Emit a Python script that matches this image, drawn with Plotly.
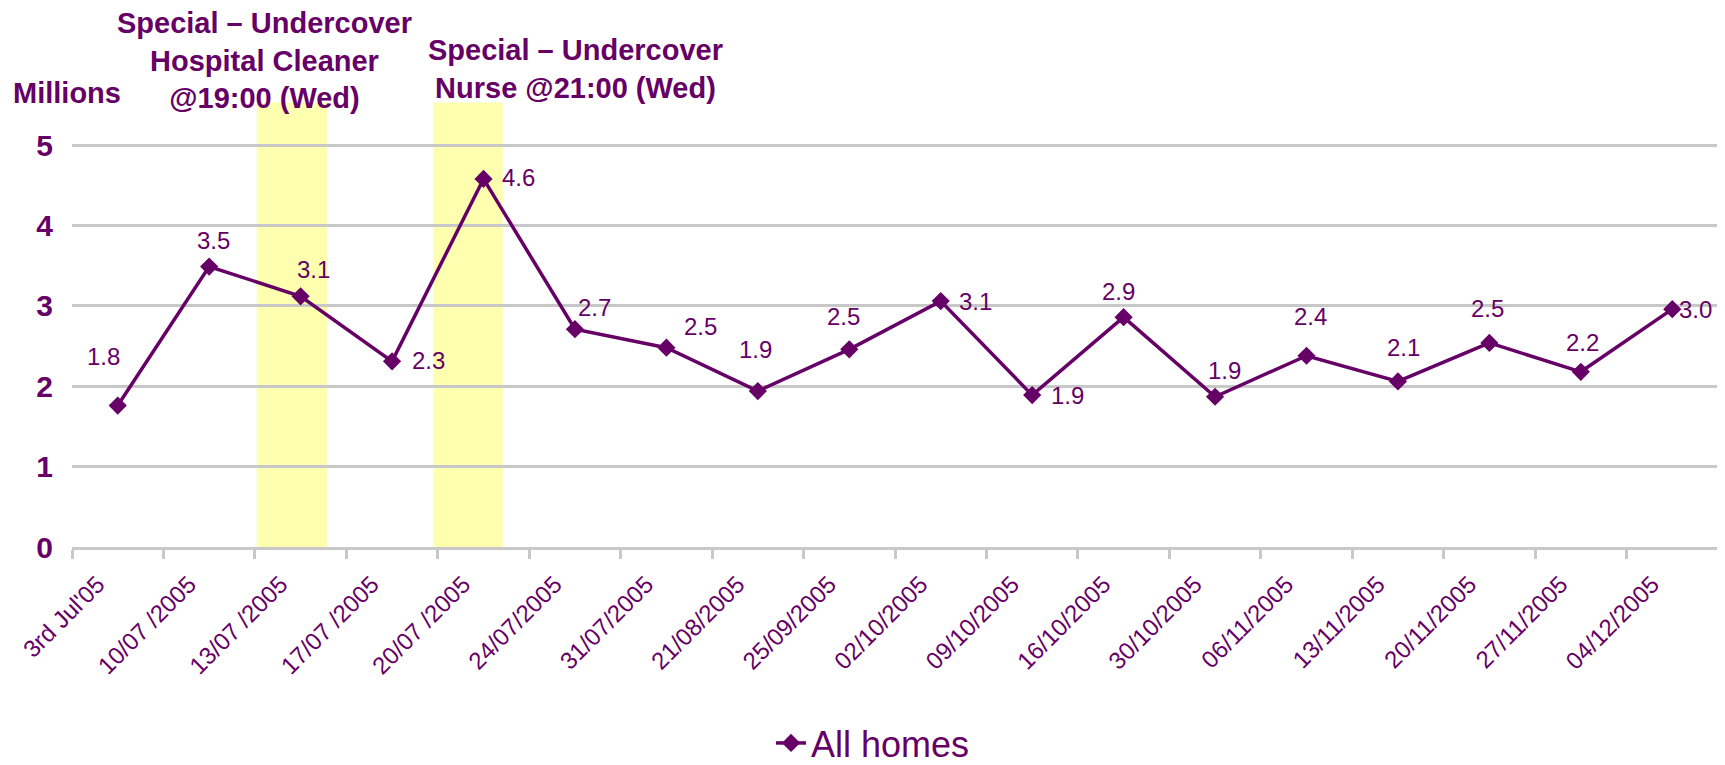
import plotly.graph_objects as go

# ---- data ----
categories = ["3rd Jul'05", "10/07 /2005", "13/07 /2005", "17/07 /2005", "20/07 /2005",
              "24/07/2005", "31/07/2005", "21/08/2005", "25/09/2005", "02/10/2005",
              "09/10/2005", "16/10/2005", "30/10/2005", "06/11/2005", "13/11/2005",
              "20/11/2005", "27/11/2005", "04/12/2005"]
all_homes = [1.76, 3.49, 3.12, 2.31, 4.58, 2.71, 2.48, 1.94, 2.46, 3.06,
             1.89, 2.86, 1.87, 2.38, 2.06, 2.54, 2.18, 2.96]
series_name = "All homes"
y_ticks = [0, 1, 2, 3, 4, 5]

# label offsets (pixels, right / down)
label_dx = [-14, 4, 13, 36, 35, 20, 34, -2, -6, 35, 35, -5, 9, 4, 6, -2, 2, 23]
label_dy = [-49, -26, -27, -1, -1, -22, -21, -42, -33, 0, 0, -26, -26, -39, -34, -34, -29, 0]

PURPLE = "#660066"
FONT = "Arial, 'Liberation Sans', sans-serif"

# the page body has an 8px margin, so the figure is sized to fit the window
W, H = 1717, 757

fig = go.Figure()
fig.add_trace(go.Scatter(
    x=categories, y=all_homes, name=series_name, mode="lines+markers",
    line=dict(color=PURPLE, width=3.5),
    marker=dict(symbol="diamond", size=14, color=PURPLE),
))

# highlight bands
for x0, x1 in [(1.52, 2.29), (3.45, 4.21)]:
    fig.add_shape(type="rect", xref="x", yref="y", x0=x0, x1=x1, y0=0, y1=5.53,
                  fillcolor="#FFFFB0", line=dict(width=0), layer="below")

# data labels
for c, v, dx, dy in zip(categories, all_homes, label_dx, label_dy):
    fig.add_annotation(x=c, y=v, text=f"{v:.1f}", showarrow=False,
                       xshift=dx, yshift=-dy,
                       font=dict(family=FONT, size=24, color=PURPLE))

fig.add_annotation(xref="paper", yref="paper", x=-0.037, y=1.018, xanchor="left",
                   yanchor="middle", text="<b>Millions</b>", showarrow=False,
                   font=dict(family=FONT, size=29, color=PURPLE))
fig.add_annotation(xref="paper", yref="paper", x=0.117, y=1.090, xanchor="center",
                   yanchor="middle",
                   text="<b>Special – Undercover<br>Hospital Cleaner<br>@19:00 (Wed)</b>",
                   showarrow=False, font=dict(family=FONT, size=29, color=PURPLE))
fig.add_annotation(xref="paper", yref="paper", x=0.306, y=1.072, xanchor="center",
                   yanchor="middle",
                   text="<b>Special – Undercover<br>Nurse @21:00 (Wed)</b>",
                   showarrow=False, font=dict(family=FONT, size=29, color=PURPLE))

fig.update_layout(
    width=W, height=H,
    margin=dict(l=64, r=7, t=93, b=218, autoexpand=False),
    paper_bgcolor="white", plot_bgcolor="white",
    font=dict(family=FONT, color=PURPLE),
    showlegend=True,
    legend=dict(orientation="h", xref="container", yref="container",
                x=0.5038, xanchor="center", y=0.029, yanchor="middle",
                font=dict(family=FONT, size=36, color=PURPLE)),
    xaxis=dict(type="category", range=[-0.5, 17.5], tickson="boundaries",
               automargin=False,
               showline=True, linecolor="#c8c8c8", linewidth=2.5,
               ticks="outside", ticklen=9, tickwidth=2.5, tickcolor="#c8c8c8",
               showgrid=False, tickangle=-45, ticklabelstandoff=11, ticklabelshift=-20,
               tickfont=dict(family=FONT, size=24, color=PURPLE)),
    yaxis=dict(range=[0, 5.55], tickvals=y_ticks, showgrid=True, automargin=False,
               gridcolor="#c8c8c8", gridwidth=2.5, zeroline=False, showline=False,
               ticklabelstandoff=18,
               tickfont=dict(family=FONT, size=30, color=PURPLE, weight="bold")),
)

fig.write_html("out.html")
